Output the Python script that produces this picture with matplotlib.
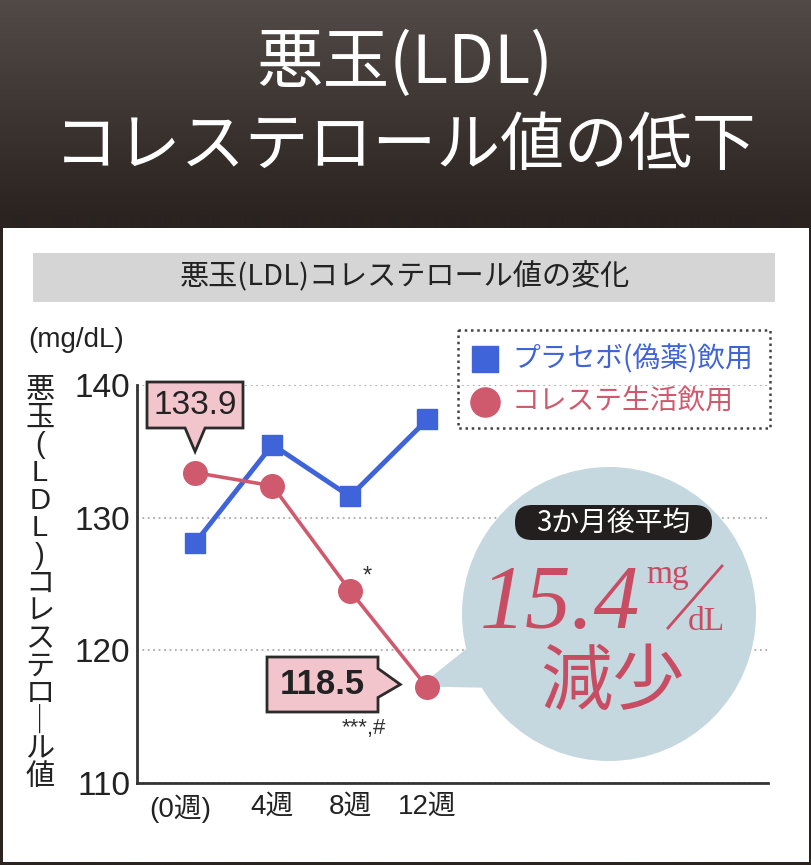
import numpy as np
import matplotlib
matplotlib.use('Agg')
import matplotlib.pyplot as plt
import matplotlib.patches as mpatches
import matplotlib.transforms as mtransforms

plt.rcParams['font.family'] = ['Noto Sans CJK JP', 'DejaVu Sans']
NUM_FONT = ['Liberation Sans', 'Noto Sans CJK JP']

# Data
weeks = [0, 4, 8, 12]
week_labels = ['(0週)', '4週', '8週', '12週']
placebo = [128.1, 135.5, 131.6, 137.4]
colesute = [133.4, 132.4, 124.5, 117.2]
start_label = '133.9'
end_label = '118.5'
y_ticks = [110, 120, 130, 140]

title_lines = ['悪玉(LDL)', 'コレステロール値の低下']
subtitle = '悪玉(LDL)コレステロール値の変化'
ylabel_text = '悪玉(LDL)コレステロール値'
unit_text = '(mg/dL)'
legend_names = ['プラセボ(偽薬)飲用', 'コレステ生活飲用']
bubble_head = '3か月後平均'
bubble_value = '15.4'
bubble_word = '減少'

BLUE = '#3f63d8'
RED = '#d05a6d'
PINK_TXT = '#c94d62'
BOX_PINK = '#f2c5cd'
DARK = '#2b2b2b'

W, H = 812, 865
fig = plt.figure(figsize=(W / 100, H / 100), dpi=100)

# background layer in pixel coords (y down)
bg = fig.add_axes([0, 0, 1, 1], zorder=0)
top_c = np.array([0x52, 0x4a, 0x46]) / 255
bot_c = np.array([0x2a, 0x23, 0x20]) / 255
t = np.clip(np.arange(H) / 215, 0, 1)[:, None]
img = top_c * (1 - t) + bot_c * t
bg.imshow(img[:, None, :], extent=(0, W, H, 0), aspect='auto', interpolation='bilinear')
bg.set_xlim(0, W)
bg.set_ylim(H, 0)
bg.axis('off')
bg.add_patch(mpatches.Rectangle((3, 228), 806, 634, fc='white', ec='none'))
bg.add_patch(mpatches.Rectangle((33, 253), 742, 49, fc='#d5d5d5', ec='none'))

bg.text(405, 64, title_lines[0], color='white', fontsize=48, ha='center', va='center')
bg.text(405, 147, title_lines[1], color='white', fontsize=46, ha='center', va='center')
bg.text(405, 277, subtitle, color='#222222', fontsize=21, ha='center', va='center')
bg.text(28, 340, unit_text, color='#222222', fontsize=20, ha='left', va='center', family=NUM_FONT)

chars = list(ylabel_text.replace('ー', '｜'))
for ch, yy in zip(chars, np.linspace(390, 777, len(chars))):
    fam = NUM_FONT if ch in 'LD()' else None
    bg.text(40, yy, ch, color='#222222', fontsize=21, ha='center', va='center', family=fam)

# data axes
ax = fig.add_axes([137 / W, 1 - 783 / H, (768 - 137) / W, (783 - 385) / H], zorder=1)
ax.patch.set_visible(False)
ax.set_xlim(-3, 29.6)
ax.set_ylim(110, 140)
ax.set_yticks(y_ticks)
ax.set_xticks(weeks, week_labels)
ax.tick_params(length=0, colors='#222222')
ax.tick_params(axis='y', labelsize=24, pad=5)
ax.tick_params(axis='x', labelsize=20, pad=8)
for lab in ax.get_xticklabels() + ax.get_yticklabels():
    lab.set_family(NUM_FONT)
for s in ['top', 'right']:
    ax.spines[s].set_visible(False)
for s in ['left', 'bottom']:
    ax.spines[s].set_color('#333333')
    ax.spines[s].set_linewidth(2)
ax.set_axisbelow(True)
ax.yaxis.grid(True, color='#aaaaaa', linewidth=1.3, linestyle=(0, (1, 2)))
lab0 = ax.get_xticklabels()[0]
lab0.set_transform(lab0.get_transform() + mtransforms.ScaledTranslation(-0.15, 0, fig.dpi_scale_trans))

ax.plot(weeks, placebo, color=BLUE, lw=3.5, marker='s', ms=14, zorder=3)
ax.plot(weeks, colesute, color=RED, lw=2.6, marker='o', ms=17, zorder=4)

# pixel positions of the red points
pix = bg.transData.inverted().transform(ax.transData.transform(np.column_stack([weeks, colesute])))

# speech bubble (above grid, below markers)
cx, cy, r = 609, 614, 147
bubble = mpatches.Circle((cx, cy), r, fc='#c5d7df', ec='none', transform=bg.transData,
                         clip_on=False, zorder=1)
ax.add_patch(bubble)
apex = (pix[3, 0] - 8, pix[3, 1] - 1)
tail = mpatches.Polygon([apex, (480, 638), (500, 688)], closed=True, fc='#c5d7df', ec='none',
                        transform=bg.transData, clip_on=False, zorder=1)
ax.add_patch(tail)

# overlay layer
ov = fig.add_axes([0, 0, 1, 1], zorder=2)
ov.patch.set_visible(False)
ov.set_xlim(0, W)
ov.set_ylim(H, 0)
ov.axis('off')

# legend
ov.add_patch(mpatches.Rectangle((458, 330), 312, 98, fc='none', ec='#444444', lw=1.8,
                                linestyle=(0, (1, 1.5))))
ov.plot([485], [359], marker='s', ms=19, color=BLUE, ls='none')
ov.plot([485], [402], marker='o', ms=21, color=RED, ls='none')
ov.text(512, 359, legend_names[0], color=BLUE, fontsize=20, ha='left', va='center')
ov.text(512, 402, legend_names[1], color=RED, fontsize=20, ha='left', va='center')

# callout for start value
px, py = pix[0]
ap = (px, py - 21)
poly = [(147, 382), (243, 382), (243, 428), (ap[0] + 10, 428), ap, (ap[0] - 10, 428), (147, 428)]
ov.add_patch(mpatches.Polygon(poly, closed=True, fc=BOX_PINK, ec=DARK, lw=2, joinstyle='miter'))
ov.text(195, 406, start_label, fontsize=24, color='#222222', ha='center', va='center', family=NUM_FONT)

# callout for end value
px, py = pix[3]
ap = (px - 27, py - 3)
poly = [(267, 657), (378, 657), (378, ap[1] - 16), ap, (378, ap[1] + 13), (378, 712), (267, 712)]
ov.add_patch(mpatches.Polygon(poly, closed=True, fc=BOX_PINK, ec=DARK, lw=2, joinstyle='miter'))
ov.text(322, 685, end_label, fontsize=25, fontweight='bold', color='#222222', ha='center', va='center',
        family=NUM_FONT)

# significance marks
ov.text(pix[2, 0] + 17, pix[2, 1] - 14, '*', fontsize=17, color='#333333', ha='center', va='center',
        family=NUM_FONT)
ov.text(pix[3, 0] - 63, pix[3, 1] + 41, '***,#', fontsize=16, color='#333333', ha='center', va='center',
        family=NUM_FONT)

# bubble contents
ov.add_patch(mpatches.FancyBboxPatch((515, 505), 197, 35, boxstyle='round,pad=0,rounding_size=17',
                                     fc='#231f1f', ec='none'))
ov.text(613, 523, bubble_head, color='white', fontsize=20, ha='center', va='center')
ov.text(640, 628, bubble_value, color=PINK_TXT, fontsize=66, fontstyle='italic',
        family='Liberation Serif', ha='right', va='baseline')
ov.text(646, 583, 'mg', color=PINK_TXT, fontsize=24, family='Liberation Serif', ha='left', va='baseline')
ov.plot([668, 722], [628, 566], color=PINK_TXT, lw=2)
ov.text(688, 630, 'dL', color=PINK_TXT, fontsize=24, family='Liberation Serif', ha='left', va='baseline')
ov.text(613, 683, bubble_word, color=PINK_TXT, fontsize=52, ha='center', va='center')

fig.savefig('out.png', dpi=100)
